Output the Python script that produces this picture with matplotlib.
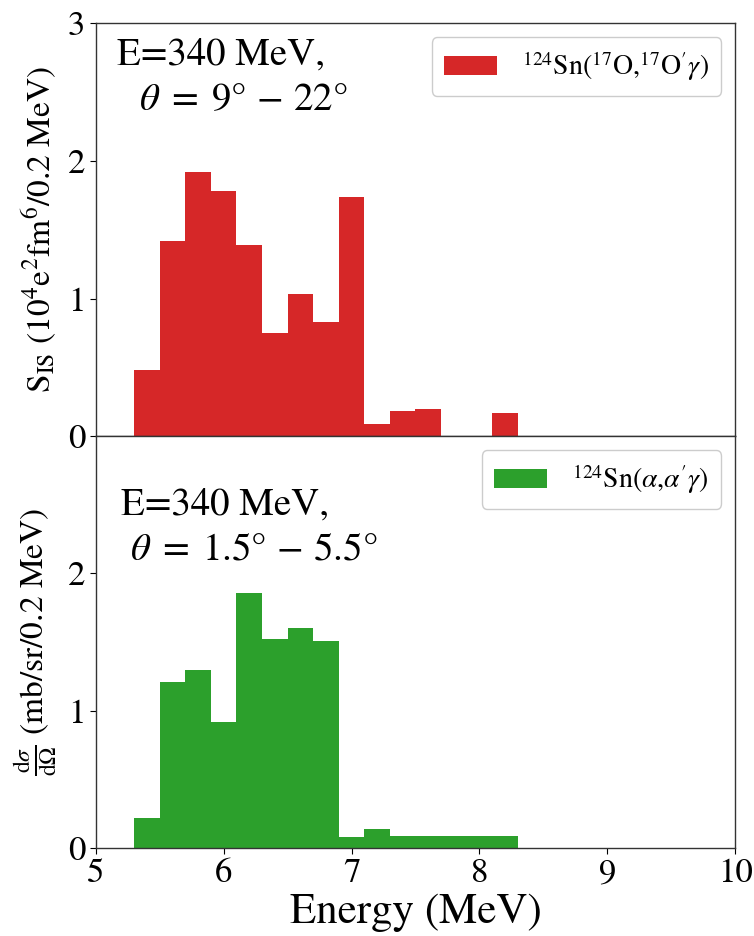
import numpy as np
import matplotlib
matplotlib.use("Agg")
import matplotlib.pyplot as plt

plt.rcParams["font.family"] = ["STIXGeneral", "DejaVu Serif"]
plt.rcParams["mathtext.fontset"] = "stix"

# Left edges of the 0.2 MeV energy bins
bin_width = 0.2
o17_bins = [5.3, 5.5, 5.7, 5.9, 6.1, 6.3, 6.5, 6.7, 6.9, 7.1, 7.3, 7.5, 7.7, 7.9, 8.1]
o17_strength = [0.48, 1.42, 1.92, 1.78, 1.39, 0.75, 1.03, 0.83, 1.74, 0.09, 0.18, 0.20, 0.0, 0.0, 0.17]

alpha_bins = [5.3, 5.5, 5.7, 5.9, 6.1, 6.3, 6.5, 6.7, 6.9, 7.1, 7.3, 7.5, 7.7, 7.9, 8.1]
alpha_xsec = [0.22, 1.21, 1.30, 0.92, 1.86, 1.52, 1.60, 1.51, 0.08, 0.14, 0.09, 0.09, 0.09, 0.09, 0.09]

fig = plt.figure(figsize=(7.54, 9.36), dpi=100)
ax1 = fig.add_axes([0.127, 0.534, 0.848, 0.441])
ax2 = fig.add_axes([0.127, 0.094, 0.848, 0.440], sharex=ax1)

red = "#d62728"
green = "#2ca02c"

ax1.bar(o17_bins, o17_strength, width=bin_width, align="edge", color=red,
        label=r"$^{124}$Sn($^{17}$O,$^{17}$O$'\gamma$)")
ax2.bar(alpha_bins, alpha_xsec, width=bin_width, align="edge", color=green,
        label=r"$^{124}$Sn($\alpha$,$\alpha'\gamma$)")

ax1.set_xlim(5, 10)
ax1.set_ylim(0, 3)
ax2.set_ylim(0, 3)
ax1.set_yticks([0, 1, 2, 3])
ax2.set_yticks([0, 1, 2])
ax2.set_xticks([5, 6, 7, 8, 9, 10])
ax1.tick_params(axis="x", which="both", bottom=False, labelbottom=False)

for ax in (ax1, ax2):
    ax.tick_params(labelsize=25, length=4, width=0.8)
    for s in ax.spines.values():
        s.set_color("#333333")
        s.set_linewidth(1.0)
    ax.legend(loc="upper right", fontsize=20, handlelength=1.9, handleheight=0.65,
              handletextpad=0.9, borderpad=0.45, framealpha=1)

ax1.set_ylabel(r"S$_{\rm IS}$ (10$^4$e$^2$fm$^6$/0.2 MeV)", fontsize=24, labelpad=6)
ax2.set_ylabel(r"$\frac{\mathrm{d}\sigma}{\mathrm{d}\Omega}$ (mb/sr/0.2 MeV)", fontsize=24, labelpad=6)
ax2.set_xlabel("Energy (MeV)", fontsize=31, labelpad=2)

ax1.text(0.034, 0.965, "E=340 MeV,", transform=ax1.transAxes, fontsize=28, va="top", ha="left")
ax1.text(0.068, 0.855, r"$\theta\;=\;9°\,-\,22°$", transform=ax1.transAxes,
         fontsize=28, va="top", ha="left")
ax2.text(0.040, 0.875, "E=340 MeV,", transform=ax2.transAxes, fontsize=28, va="top", ha="left")
ax2.text(0.053, 0.765, r"$\theta\;=\;1.5°\,-\,5.5°$", transform=ax2.transAxes,
         fontsize=28, va="top", ha="left")

fig.savefig("out.png", dpi=100)
